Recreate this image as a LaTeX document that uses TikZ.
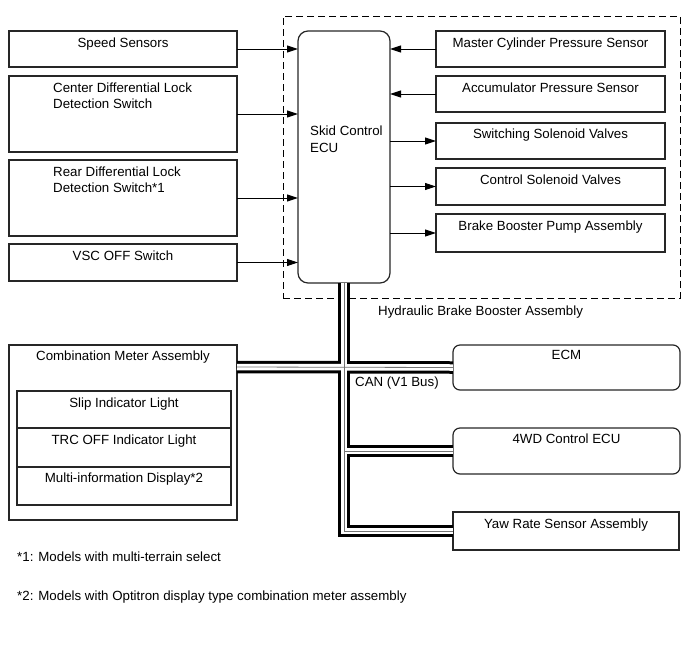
\documentclass[tikz,border=0pt]{standalone}
\usepackage{fontspec}
\setmainfont{Liberation Sans}
\usetikzlibrary{arrows.meta}
\newcommand\buspaths[1]{%
  \draw[#1] (ecu.south) -- (bend) -- (yaw.west);
  \draw[#1] (cmbus) -- (ecm.west);
  \draw[#1] (jwd) -- (wd.west);
}
\begin{document}
\begin{tikzpicture}[x=1pt,y=1pt,
  box/.style={draw=black!85, line width=1.2pt, inner sep=0pt, outer sep=0pt, anchor=north west},
  rbox/.style={box, rounded corners=7pt},
  txt/.style={inner sep=0pt, anchor=base, font=\fontsize{13.3}{16}\selectfont},
  ltxt/.style={txt, anchor=base west},
  arr/.style={line width=1pt, -{Triangle[length=11pt,width=7pt]}},
  busA/.style={line width=12.5pt, black, line join=miter},
  busB/.style={line width=6.5pt, white, line join=miter},
  busC/.style={line width=0.8pt, black!55, line join=miter},
]
\useasboundingbox (0,0) rectangle (690,-659);

% dashed assembly
\node[draw, line width=1pt, dash pattern=on 7pt off 4pt, inner sep=0pt, outer sep=0pt,
      anchor=north west, minimum width=397pt, minimum height=282pt] (hba) at (283,-16) {};

% left inputs
\node[box, minimum width=228pt, minimum height=36pt] (ss)  at (9,-31) {};
\node[box, minimum width=228pt, minimum height=76pt] (cd)  at (9,-76) {};
\node[box, minimum width=228pt, minimum height=76pt] (rd)  at (9,-160) {};
\node[box, minimum width=228pt, minimum height=37pt] (vsc) at (9,-244) {};

% ECU
\node[box, rounded corners=10pt, minimum width=92pt, minimum height=252pt] (ecu) at (298,-31) {};

% right boxes
\node[box, minimum width=229pt, minimum height=36pt] (ms) at (436,-31) {};
\node[box, minimum width=229pt, minimum height=36pt] (ap) at (436,-76) {};
\node[box, minimum width=229pt, minimum height=36pt] (sw) at (436,-123) {};
\node[box, minimum width=229pt, minimum height=37pt] (cs) at (436,-168) {};
\node[box, minimum width=229pt, minimum height=38pt] (bb) at (436,-214) {};

% combination meter
\node[box, minimum width=228pt, minimum height=175pt] (cm) at (9,-345) {};
\node[box, minimum width=214pt, minimum height=37pt] (slip) at (17,-391) {};
\node[box, minimum width=214pt, minimum height=39pt] (trc)  at (17,-428) {};
\node[box, minimum width=214pt, minimum height=38pt] (mid)  at (17,-467) {};

% CAN nodes
\node[rbox, minimum width=227pt, minimum height=45pt] (ecm) at (453,-345) {};
\node[rbox, minimum width=227pt, minimum height=46pt] (wd)  at (453,-428) {};
\node[box,  minimum width=226pt, minimum height=38pt] (yaw) at (453,-512) {};

% bus coordinates
\coordinate (cmbus) at (237,-367);
\coordinate (bend) at (ecu.south |- 0,-531);
\coordinate (jwd) at (ecu.south |- wd.west);
\buspaths{busA}
\buspaths{busB}
\buspaths{busC}

% arrows
\draw[arr] (ss.east)  -- (ss.east -| ecu.west);
\draw[arr] (cd.east)  -- (cd.east -| ecu.west);
\draw[arr] (rd.east)  -- (rd.east -| ecu.west);
\draw[arr] (vsc.east) -- (vsc.east -| ecu.west);
\draw[arr] (ms.west)  -- (ms.west -| ecu.east);
\draw[arr] (ap.west)  -- (ap.west -| ecu.east);
\draw[arr] (sw.west -| ecu.east) -- (sw.west);
\draw[arr] (cs.west -| ecu.east) -- (cs.west);
\draw[arr] (bb.west -| ecu.east) -- (bb.west);

% texts
\node[txt] (tss) at ([yshift=-16pt]ss.north) {Speed Sensors};
\node[ltxt] (tcd1) at ([xshift=44pt,yshift=-16pt]cd.north west) {Center Differential Lock};
\node[ltxt] (tcd2) at ([xshift=44pt,yshift=-32pt]cd.north west) {Detection Switch};
\node[ltxt] (trd1) at ([xshift=44pt,yshift=-16pt]rd.north west) {Rear Differential Lock};
\node[ltxt] (trd2) at ([xshift=44pt,yshift=-32pt]rd.north west) {Detection Switch*1};
\node[txt] (tvsc) at ([yshift=-16pt]vsc.north) {VSC OFF Switch};
\node[ltxt] (tecu1) at (310,-135) {Skid Control};
\node[ltxt] (tecu2) at (310,-152) {ECU};
\node[txt] (tms) at ([yshift=-16pt]ms.north) {Master Cylinder Pressure Sensor};
\node[txt] (tap) at ([yshift=-16pt]ap.north) {Accumulator Pressure Sensor};
\node[txt] (tsw) at ([yshift=-15pt]sw.north) {Switching Solenoid Valves};
\node[txt] (tcs) at ([yshift=-16pt]cs.north) {Control Solenoid Valves};
\node[txt] (tbb) at ([yshift=-16pt]bb.north) {Brake Booster Pump Assembly};
\node[ltxt] (thba) at (378,-315) {Hydraulic Brake Booster Assembly};
\node[txt] (tcm) at ([yshift=-15pt]cm.north) {Combination Meter Assembly};
\node[txt] (tslip) at ([yshift=-16pt]slip.north) {Slip Indicator Light};
\node[txt] (ttrc) at ([yshift=-16pt]trc.north) {TRC OFF Indicator Light};
\node[txt] (tmid) at ([yshift=-15pt]mid.north) {Multi-information Display*2};
\node[txt] (tecm) at ([yshift=-14pt]ecm.north) {ECM};
\node[txt] (twd) at ([yshift=-15pt]wd.north) {4WD Control ECU};
\node[txt] (tyaw) at ([yshift=-16pt]yaw.north) {Yaw Rate Sensor Assembly};
\node[ltxt] (tcan) at (355,-386) {CAN (V1 Bus)};
\node[ltxt] (fn1) at (17,-561) {*1: Models with multi-terrain select};
\node[ltxt] (fn2) at (17,-600) {*2: Models with Optitron display type combination meter assembly};
\end{tikzpicture}
\end{document}
